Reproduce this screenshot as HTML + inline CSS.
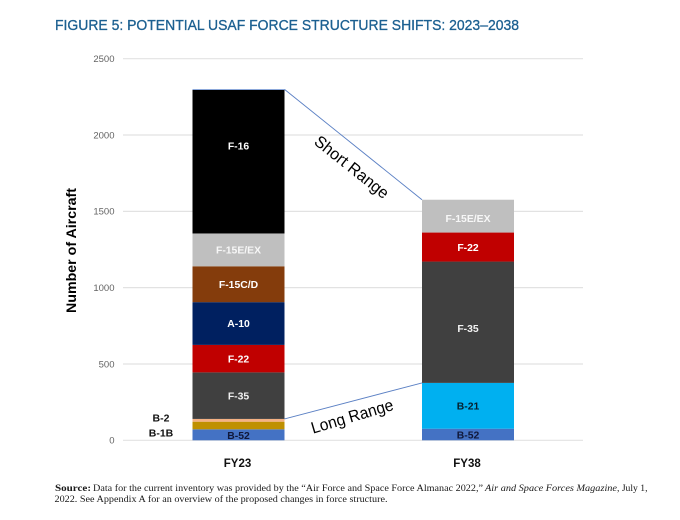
<!DOCTYPE html>
<html lang="en">
<head>
<meta charset="utf-8">
<title>Figure 5: Potential USAF Force Structure Shifts</title>
<style>
html,body{margin:0;padding:0;background:#fff}
svg{display:block;width:680px;height:520px}
text{font-family:"Liberation Sans",sans-serif}
.src{font-family:"Liberation Serif",serif;font-size:9.6px;fill:#1a1a1a}
</style>
</head>
<body>
<svg id="chart" xmlns="http://www.w3.org/2000/svg" width="680" height="520" viewBox="0 0 680 520">
  <text x="55" y="30" font-size="14.5" fill="#1c6091" stroke="#1c6091" stroke-width="0.3" textLength="464" lengthAdjust="spacingAndGlyphs">FIGURE 5: POTENTIAL USAF FORCE STRUCTURE SHIFTS: 2023–2038</text>
  <g id="grid"></g>
  <g id="yticks"></g>
  <text transform="translate(76,250.5) rotate(-90)" text-anchor="middle" font-size="14" font-weight="bold" fill="#000" textLength="125" lengthAdjust="spacingAndGlyphs">Number of Aircraft</text>
  <g id="bars"></g>
  <g id="connectors"></g>
  <g id="xcats"></g>
  <text transform="translate(351,168) rotate(38.5)" text-anchor="middle" dominant-baseline="middle" font-size="16.5" fill="#000" textLength="90" lengthAdjust="spacingAndGlyphs">Short Range</text>
  <text transform="translate(352.5,417.5) rotate(-16.5)" text-anchor="middle" dominant-baseline="middle" font-size="16.5" fill="#000" textLength="85" lengthAdjust="spacingAndGlyphs">Long Range</text>
  <text x="161" y="421.5" text-anchor="middle" font-size="10.5" font-weight="bold" fill="#111">B-2</text>
  <text x="161" y="436.5" text-anchor="middle" font-size="10.5" font-weight="bold" fill="#111">B-1B</text>
  <g>
    <text class="src" x="55" y="491" font-weight="bold" textLength="36" lengthAdjust="spacingAndGlyphs">Source:</text>
    <text class="src" x="93" y="491" textLength="390" lengthAdjust="spacingAndGlyphs">Data for the current inventory was provided by the “Air Force and Space Force Almanac 2022,”</text>
    <text class="src" x="485" y="491" font-style="italic" textLength="132" lengthAdjust="spacingAndGlyphs">Air and Space Forces Magazine</text>
    <text class="src" x="617" y="491" textLength="30.5" lengthAdjust="spacingAndGlyphs">, July 1,</text>
    <text class="src" x="54.5" y="502" textLength="333" lengthAdjust="spacingAndGlyphs">2022. See Appendix A for an overview of the proposed changes in force structure.</text>
  </g>
</svg>
<script>
const categories = ['FY23', 'FY38'];
const yTicks = [0, 500, 1000, 1500, 2000, 2500];
const b52 = [72, 76];
const b1b = [50, 0];
const b2 = [18, 0];
const b21 = [0, 300];
const f35 = [305, 795];
const f22 = [180, 190];
const a10 = [280, 0];
const f15cd = [235, 0];
const f15e = [215, 215];
const f16 = [940, 0];
const topSliver = [4, 0];

const NS = 'http://www.w3.org/2000/svg';
const plot = { left: 123, right: 583, zeroY: 440.3, topY: 58.7, maxV: 2500 };
const barWidth = 92;
const barCenters = [238.5, 468];
const seriesList = [
  { name: 'B-52', vals: b52, fill: '#4472c4', text: '#10183a', inside: true },
  { name: 'B-1B', vals: b1b, fill: '#bf9000', text: '', inside: false },
  { name: 'B-2', vals: b2, fill: '#f4b183', text: '', inside: false },
  { name: 'B-21', vals: b21, fill: '#00b0f0', text: '#06202e', inside: true },
  { name: 'F-35', vals: f35, fill: '#404040', text: '#f2f2f2', inside: true },
  { name: 'F-22', vals: f22, fill: '#c00000', text: '#ffffff', inside: true },
  { name: 'A-10', vals: a10, fill: '#002060', text: '#ffffff', inside: true },
  { name: 'F-15C/D', vals: f15cd, fill: '#843c0c', text: '#ffffff', inside: true },
  { name: 'F-15E/EX', vals: f15e, fill: '#bfbfbf', text: '#f7f7f7', inside: true },
  { name: 'F-16', vals: f16, fill: '#000000', text: '#ffffff', inside: true },
  { name: 'top-edge', vals: topSliver, fill: '#4472c4', text: '', inside: false }
];
const longRangeNames = ['B-52', 'B-1B', 'B-2', 'B-21'];

function yScale(v) {
  return plot.zeroY - (v / plot.maxV) * (plot.zeroY - plot.topY);
}
function slug(s) {
  return s.toLowerCase().replace(/[^a-z0-9]+/g, '-');
}
function make(tag, parent, attrs) {
  const el = document.createElementNS(NS, tag);
  Object.keys(attrs).forEach(function (k) { el.setAttribute(k, attrs[k]); });
  parent.appendChild(el);
  return el;
}

const gridG = document.getElementById('grid');
const tickG = document.getElementById('yticks');
yTicks.forEach(function (t) {
  const line = make('line', gridG, { x1: plot.left, x2: plot.right, y1: yScale(t), y2: yScale(t), stroke: '#e2e2e2', 'stroke-width': 1.2 });
  
  
  const label = make('text', tickG, { x: 114.5, y: yScale(t) + 3.4, 'text-anchor': 'end', 'font-size': 9.5, fill: '#636363' });
  
  
  label.textContent = t;
});

const barsG = document.getElementById('bars');
const xG = document.getElementById('xcats');
categories.forEach(function (cat, ci) {
  const x = barCenters[ci] - barWidth / 2;
  let base = 0;
  seriesList.forEach(function (s) {
    const v = s.vals[ci];
    if (!v) return;
    const y0 = yScale(base);
    const y1 = yScale(base + v);
    const rect = make('rect', barsG, { x: x, y: y1, width: barWidth, height: y0 - y1, fill: s.fill });
    
    
    if (s.inside) {
      let labelY = (y0 + y1) / 2;
      if (s.name === 'F-16') labelY -= 16;
      if (cat === 'FY38' && s.name === 'F-35') labelY += 6;
      if (cat === 'FY38' && s.name === 'F-15E/EX') labelY += 2;
      if (s.name === 'B-52') labelY += 0.5;
      const lab = make('text', barsG, { x: barCenters[ci], y: labelY + 3.7, 'text-anchor': 'middle', 'font-size': 10.4, 'font-weight': 'bold', fill: s.text });
      
      
      lab.textContent = s.name;
    }
    base += v;
  });
  const catLabel = make('text', xG, { x: barCenters[ci] - 1, y: 467, 'text-anchor': 'middle', 'font-size': 11.5, 'font-weight': 'bold', fill: '#111' });
  
  
  catLabel.textContent = cat;
});

function stackTotal(ci, names) {
  return seriesList.reduce(function (sum, s) {
    return (!names || names.indexOf(s.name) >= 0) ? sum + s.vals[ci] : sum;
  }, 0);
}
const connG = document.getElementById('connectors');
const fromX = barCenters[0] + barWidth / 2;
const toX = barCenters[1] - barWidth / 2;
const shortLine = make('line', connG, { x1: fromX, y1: yScale(stackTotal(0)), x2: toX, y2: yScale(stackTotal(1)), stroke: '#5b80c4', 'stroke-width': 0.9 });


const longLine = make('line', connG, { x1: fromX, y1: yScale(stackTotal(0, longRangeNames)), x2: toX, y2: yScale(stackTotal(1, longRangeNames)), stroke: '#5b80c4', 'stroke-width': 0.9 });


</script>
</body>
</html>
